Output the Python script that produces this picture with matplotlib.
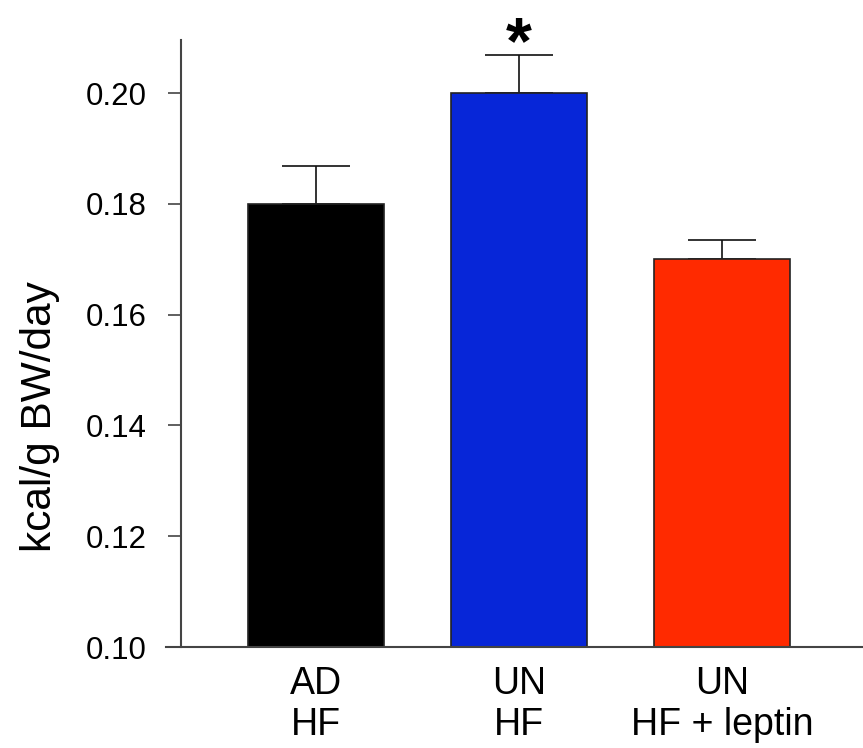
import numpy as np
import matplotlib
matplotlib.use('Agg')
import matplotlib.pyplot as plt

plt.rcParams['font.family'] = ['Liberation Sans', 'DejaVu Sans']

groups  = ['AD\nHF', 'UN\nHF', 'UN\nHF + leptin']
means   = [0.180, 0.200, 0.170]
sems    = [0.0069, 0.0069, 0.0035]
colors  = ['#000000', '#0726D8', '#FF2A00']
yticks  = [0.10, 0.12, 0.14, 0.16, 0.18, 0.20]

fig = plt.figure(figsize=(8.63, 7.48), dpi=100)
ax  = fig.add_axes([0.2097, 0.135, 0.7903, 0.8115])

x = np.arange(len(groups))
ax.bar(x, np.array(means) - 0.10, bottom=0.10, width=0.67, color=colors,
       edgecolor='#222222', linewidth=1.2, zorder=2)
ax.errorbar(x, means, yerr=[np.zeros(len(sems)), sems], fmt='none',
            ecolor='#111111', elinewidth=1.2, capsize=24.5, capthick=1.2, zorder=1)

# significance mark over the UN HF bar
ax.text(1, 0.2055, '*', ha='center', va='baseline', fontsize=48, fontweight='bold')

ax.set_xlim(-0.665, 2.695)
ax.set_ylim(0.10, 0.2096)
ax.set_yticks(yticks)
ax.set_yticklabels(['%.2f' % v for v in yticks])
ax.set_xticks(x)
ax.set_xticklabels(groups, linespacing=1.15)
ax.tick_params(axis='x', length=0, pad=14, labelsize=27)
ax.tick_params(axis='y', length=9.5, width=1.2, color='#444444', pad=15, labelsize=22.5)
ax.set_ylabel('kcal/g BW/day', fontsize=30.5, labelpad=18)
ax.yaxis.set_label_coords(-0.178, 0.38)

for s in ['top', 'right', 'bottom']:
    ax.spines[s].set_visible(False)
ax.spines['left'].set_color('#444444')
ax.spines['left'].set_linewidth(1.5)

# bottom axis line reaching slightly past the y axis
ax.plot([-0.74, 2.695], [0.10, 0.10], color='#444444', linewidth=1.5,
        clip_on=False, zorder=3)

fig.savefig('out.png', dpi=100)
